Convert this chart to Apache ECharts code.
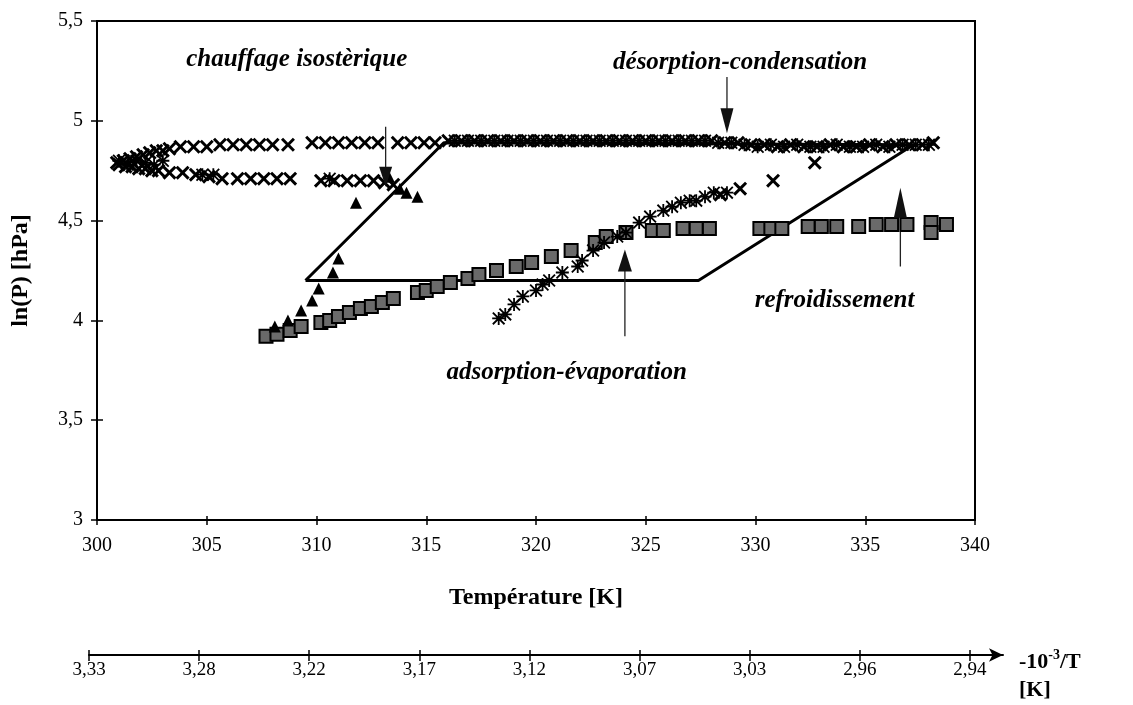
<!DOCTYPE html>
<html><head><meta charset="utf-8">
<script src="https://cdn.jsdelivr.net/npm/echarts@6/dist/echarts.min.js"></script>
<style>html,body{margin:0;padding:0;background:#fff}#c{width:1133px;height:705px}</style>
</head><body><div id="c"></div>
<script>
// ---- data ----
const invTLabels = ['3,33','3,28','3,22','3,17','3,12','3,07','3,03','2,96','2,94'];
const invTPositions = [0,1,2,3,4,5,6,7,8];

const crossPts = [
  [300.9,4.79],[301.2,4.80],[301.5,4.81],[301.8,4.82],[302.1,4.83],[302.4,4.84],[302.7,4.85],[303.0,4.85],[303.3,4.86],
  [303.8,4.87],[304.4,4.87],[305.0,4.87],[305.6,4.88],[306.2,4.88],[306.8,4.88],[307.4,4.88],[308.0,4.88],[308.7,4.88],
  [309.8,4.89],[310.4,4.89],[311.0,4.89],[311.6,4.89],[312.2,4.89],[312.8,4.89],[313.7,4.89],[314.3,4.89],[314.9,4.89],[315.4,4.89],
  [316.0,4.90],[316.6,4.90],[317.2,4.90],[317.8,4.90],[318.4,4.90],[319.0,4.90],[319.6,4.90],[320.2,4.90],[320.8,4.90],
  [321.4,4.90],[322.0,4.90],[322.6,4.90],[323.2,4.90],[323.8,4.90],[324.4,4.90],[325.0,4.90],[325.6,4.90],[326.2,4.90],
  [326.8,4.90],[327.4,4.90],[328.0,4.90],[328.6,4.89],[329.2,4.89],[329.8,4.88],
  [330.4,4.88],[331.0,4.87],[331.6,4.88],[332.2,4.87],[332.8,4.87],[333.4,4.88],[334.0,4.87],[334.6,4.87],[335.2,4.88],
  [335.8,4.87],[336.4,4.88],[337.0,4.88],[337.6,4.88],[338.1,4.89],
  [301.0,4.78],[301.3,4.77],[301.6,4.77],[301.9,4.76],[302.2,4.76],[302.5,4.75],[302.8,4.75],[303.3,4.74],[303.9,4.74],
  [304.5,4.73],[305.1,4.72],[305.7,4.71],[306.4,4.71],[307.0,4.71],[307.6,4.71],[308.2,4.71],[308.8,4.71],
  [310.2,4.70],[310.8,4.70],[311.4,4.70],[312.0,4.70],[312.6,4.70],[313.1,4.69],[313.5,4.68],
  [328.4,4.63],[329.3,4.66],[330.8,4.70],[332.7,4.79]
];

const starPts = [
  [301.0,4.80],[301.4,4.78],[301.8,4.80],[302.2,4.79],[302.6,4.78],[303.0,4.80],[304.8,4.73],[305.3,4.73],[310.6,4.71],
  [316.3,4.90],[316.9,4.90],[317.5,4.90],[318.1,4.90],[318.7,4.90],[319.3,4.90],[319.9,4.90],[320.5,4.90],[321.1,4.90],
  [321.7,4.90],[322.3,4.90],[322.9,4.90],[323.5,4.90],[324.1,4.90],[324.7,4.90],[325.3,4.90],[325.9,4.90],[326.5,4.90],
  [327.1,4.90],[327.7,4.90],[328.3,4.89],[328.9,4.89],[329.5,4.88],
  [330.1,4.87],[330.7,4.88],[331.3,4.87],[331.9,4.88],[332.5,4.87],[333.1,4.87],[333.7,4.88],[334.3,4.87],[334.9,4.87],
  [335.5,4.88],[336.1,4.87],[336.7,4.88],[337.3,4.88],[337.9,4.88],
  [318.3,4.01],[318.6,4.03],[319.0,4.08],[319.4,4.12],[320.0,4.15],[320.3,4.18],[320.6,4.20],[321.2,4.24],[321.9,4.27],
  [322.1,4.30],[322.6,4.35],[323.1,4.39],[323.7,4.42],[324.1,4.44],[324.7,4.49],[325.2,4.52],[325.8,4.55],[326.2,4.57],
  [326.6,4.59],[327.0,4.60],[327.3,4.60],[327.7,4.62],[328.1,4.64],[328.7,4.64]
];

const triPts = [
  [308.1,3.97],[308.7,4.00],[309.3,4.05],[309.8,4.10],[310.1,4.16],[310.75,4.24],[311.0,4.31],
  [311.8,4.59],[313.3,4.72],[313.8,4.66],[314.1,4.64],[314.6,4.62]
];

const squarePts = [
  [307.7,3.92],[308.2,3.93],[308.8,3.95],[309.3,3.97],[310.2,3.99],[310.6,4.00],[311.0,4.02],[311.5,4.04],[312.0,4.06],
  [312.5,4.07],[313.0,4.09],[313.5,4.11],[314.6,4.14],[315.0,4.15],[315.5,4.17],[316.1,4.19],[316.9,4.21],[317.4,4.23],
  [318.2,4.25],[319.1,4.27],[319.8,4.29],[320.7,4.32],[321.6,4.35],[322.7,4.39],[323.2,4.42],[324.1,4.44],[325.3,4.45],
  [325.8,4.45],[326.7,4.46],[327.3,4.46],[327.9,4.46],
  [330.2,4.46],[330.7,4.46],[331.2,4.46],[332.4,4.47],[333.0,4.47],[333.7,4.47],[334.7,4.47],[335.5,4.48],[336.2,4.48],
  [336.9,4.48],[338.0,4.49],[338.0,4.44],[338.7,4.48]
];

const cyclePts = [[309.5,4.20],[315.8,4.89],[337.2,4.88],[327.4,4.20],[309.5,4.20]];

// annotation arrows: shaft start, shaft end, head centre (data space)
const arrowShafts = [
  [[313.15,4.97],[313.15,4.76]],
  [[328.7,5.22],[328.7,5.05]],
  [[324.05,3.92],[324.05,4.27]],
  [[336.6,4.27],[336.6,4.57]]
];
const arrowHeads = [[313.15,4.72],[328.7,5.00],[324.05,4.30],[336.6,4.59]];
const arrowDirs = ['down','down','up','up'];

const noteTexts = ['chauffage isostèrique','désorption-condensation','refroidissement','adsorption-évaporation'];
const notePos = [[309.1,5.305],[329.3,5.29],[333.6,4.10],[321.4,3.74]];

// ---- chart ----
const SERIF = 'Liberation Serif';
const X_PATH = 'path://M0,1.5 L1.5,0 L5,3.5 L8.5,0 L10,1.5 L6.5,5 L10,8.5 L8.5,10 L5,6.5 L1.5,10 L0,8.5 L3.5,5 Z';
const STAR_PATH = 'path://M4.3,0 H5.7 V10 H4.3 Z M0,4.3 H10 V5.7 H0 Z M0,1 L1,0 L10,9 L9,10 Z M9,0 L10,1 L1,10 L0,9 Z';
const headSizes = [[13,20],[13,25],[14,22],[13,30]];

const chart = echarts.init(document.getElementById('c'), null, {renderer:'canvas'});
const commaFmt = v => String(v).replace('.', ',');

const tickStyle = {color:'#000', width:1.5};
const series = [];
series.push({
  type:'line', xAxisIndex:0, yAxisIndex:0, data: cyclePts, symbol:'none',
  lineStyle:{color:'#000', width:3}, silent:true, z:2
});
arrowShafts.forEach(s => series.push({
  type:'line', xAxisIndex:0, yAxisIndex:0, data:s, symbol:'none',
  lineStyle:{color:'#222', width:1.3}, silent:true, z:2
}));
series.push({
  type:'scatter', xAxisIndex:0, yAxisIndex:0, data: squarePts, symbol:'rect', symbolSize:13,
  itemStyle:{color:'#6a6a6a', borderColor:'#000', borderWidth:2, opacity:1}, z:3
});
series.push({
  type:'scatter', xAxisIndex:0, yAxisIndex:0, data: triPts, symbol:'triangle', symbolSize:12,
  itemStyle:{color:'#000', opacity:1}, z:4
});
series.push({
  type:'scatter', xAxisIndex:0, yAxisIndex:0, data: starPts, symbol:STAR_PATH, symbolSize:13,
  itemStyle:{color:'#000', opacity:1}, z:4
});
series.push({
  type:'scatter', xAxisIndex:0, yAxisIndex:0, data: crossPts, symbol:X_PATH, symbolSize:14,
  itemStyle:{color:'#000', opacity:1}, z:4
});
series.push({
  type:'scatter', xAxisIndex:0, yAxisIndex:0,
  data: arrowHeads.map((p,i) => ({value:p, symbolSize:headSizes[i], symbolRotate: arrowDirs[i]==='down'?180:0})),
  symbol:'triangle', itemStyle:{color:'#111', opacity:1}, silent:true, z:5
});
series.push({
  type:'scatter', xAxisIndex:0, yAxisIndex:0,
  data: notePos.map((p,i) => ({value:p, name:noteTexts[i]})),
  symbolSize:1, itemStyle:{color:'transparent', opacity:1}, silent:true, z:6,
  label:{show:true, position:'inside', formatter:'{b}', color:'#000', opacity:1, fontFamily:SERIF,
         fontStyle:'italic', fontWeight:'bold', fontSize:25}
});
series.push({type:'scatter', xAxisIndex:2, yAxisIndex:2, data:[]});

const option = {
  animation:false,
  backgroundColor:'#fff',
  textStyle:{fontFamily:SERIF, color:'#000'},
  grid:[
    {left:97, top:21, width:878, height:499, show:true, borderColor:'#000', borderWidth:2, backgroundColor:'transparent'},
    {left:89, top:654, width:914, height:1}
  ],
  xAxis:[
    {gridIndex:0, type:'value', min:300, max:340, interval:5, position:'bottom',
     axisLine:{lineStyle:{color:'#000', width:2}},
     axisTick:{length:5, lineStyle:tickStyle},
     axisLabel:{color:'#000', fontFamily:SERIF, fontSize:20, margin:16},
     splitLine:{show:false},
     name:'Température [K]', nameLocation:'middle', nameGap:66,
     nameTextStyle:{color:'#000', fontFamily:SERIF, fontWeight:'bold', fontSize:24}},
    {gridIndex:0, type:'value', min:300, max:340, interval:5, position:'bottom', offset:0,
     axisLine:{show:false}, axisTick:{inside:true, length:4, lineStyle:tickStyle},
     axisLabel:{show:false}, splitLine:{show:false}},
    {gridIndex:1, type:'value', min:0, max:8.3, position:'bottom',
     axisLine:{symbol:['none','arrow'], symbolSize:[10,14], lineStyle:{color:'#000', width:2}},
     axisTick:{length:6, customValues:invTPositions, lineStyle:tickStyle},
     axisLabel:{color:'#000', fontFamily:SERIF, fontSize:19, margin:6, customValues:invTPositions,
                formatter: v => invTLabels[Math.round(v)]},
     splitLine:{show:false},
     name:'{b|-10}{s|-3}{b|/T}\n{b|[K]}', nameLocation:'end', nameGap:16,
     nameTextStyle:{color:'#000', fontFamily:SERIF, fontWeight:'bold', fontSize:22, lineHeight:28,
       verticalAlign:'middle', align:'left', padding:[42,0,0,0],
       rich:{b:{fontFamily:SERIF, fontWeight:'bold', fontSize:22, lineHeight:28, color:'#000'},
             s:{fontFamily:SERIF, fontWeight:'bold', fontSize:14, lineHeight:28, verticalAlign:'top', color:'#000'}}}},
    {gridIndex:1, type:'value', min:0, max:8.3, position:'bottom', offset:0,
     axisLine:{show:false}, axisTick:{inside:true, length:5, customValues:invTPositions, lineStyle:tickStyle},
     axisLabel:{show:false}, splitLine:{show:false}}
  ],
  yAxis:[
    {gridIndex:0, type:'value', min:3, max:5.5, interval:0.5, position:'left',
     axisLine:{lineStyle:{color:'#000', width:2}},
     axisTick:{length:6, lineStyle:tickStyle},
     axisLabel:{color:'#000', fontFamily:SERIF, fontSize:20, margin:14, formatter:commaFmt},
     splitLine:{show:false},
     name:'ln(P) [hPa]', nameLocation:'middle', nameGap:64,
     nameTextStyle:{color:'#000', fontFamily:SERIF, fontWeight:'bold', fontSize:24}},
    {gridIndex:0, type:'value', min:3, max:5.5, interval:0.5, position:'left', offset:0,
     axisLine:{show:false}, axisTick:{inside:true, length:6, lineStyle:tickStyle},
     axisLabel:{show:false}, splitLine:{show:false}},
    {gridIndex:1, type:'value', min:0, max:1, show:false}
  ],
  series: series
};
chart.setOption(option);
</script>
</body></html>
